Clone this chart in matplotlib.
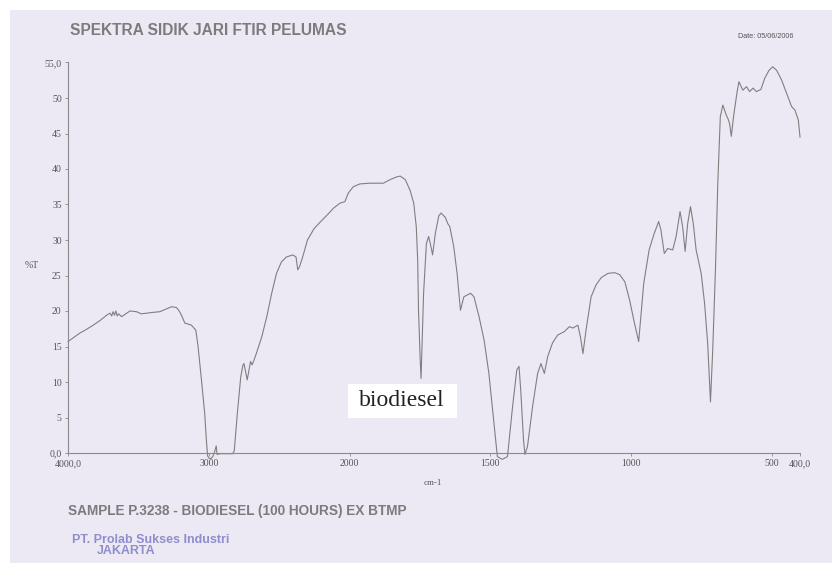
import numpy as np
import matplotlib
matplotlib.use("Agg")
import matplotlib.pyplot as plt
from matplotlib.patches import Rectangle

# ---------------- data ----------------
wavenumber = [4000, 3950, 3915, 3870, 3821, 3770, 3726, 3702, 3690, 3680, 3670, 3660,
              3650, 3640, 3619, 3590, 3560, 3513, 3480, 3442, 3400, 3348, 3300, 3265,
              3230, 3210, 3194, 3170, 3123, 3092, 3076, 3052, 3029, 3017, 3008, 3000,
              2986, 2972, 2958, 2947, 2941, 2920, 2830, 2819, 2797, 2773, 2757, 2750,
              2727, 2703, 2692, 2669, 2623, 2588, 2553, 2519, 2484, 2449, 2403, 2380,
              2368, 2356, 2333, 2299, 2252, 2205, 2160, 2113, 2067, 2033, 2009, 1987,
              1963, 1928, 1880, 1856, 1832, 1820, 1802, 1785, 1772, 1763, 1758, 1755,
              1749, 1746, 1737, 1727, 1719, 1711, 1705, 1695, 1683, 1675, 1660, 1651,
              1644, 1630, 1618, 1606, 1594, 1570, 1558, 1540, 1522, 1505, 1487, 1475,
              1457, 1439, 1421, 1406, 1398, 1392, 1382, 1377, 1368, 1350, 1332, 1320,
              1308, 1296, 1279, 1261, 1237, 1219, 1207, 1189, 1180, 1171, 1160, 1142,
              1124, 1106, 1082, 1058, 1040, 1022, 1005, 988, 973, 955, 936, 918,
              902, 894, 882, 870, 852, 840, 826, 817, 808, 799, 789, 779,
              769, 751, 739, 728, 718, 710, 700, 692, 683, 674, 662, 656,
              650, 644, 636, 624, 617, 603, 590, 579, 567, 555, 539, 525,
              510, 497, 483, 465, 448, 430, 418, 406, 400]
transmittance = [15.7, 16.4, 16.9, 17.4, 18.0, 18.7, 19.4, 19.7, 19.3, 19.9, 19.4, 20.0,
                 19.3, 19.6, 19.2, 19.6, 20.0, 19.9, 19.6, 19.7, 19.8, 19.9, 20.3, 20.6,
                 20.5, 20.0, 19.4, 18.3, 18.0, 17.3, 15.0, 10.3, 5.6, 1.8, -0.4, -0.7,
                 -0.8, -0.5, 0.2, 1.0, -0.2, -0.1, -0.1, 0.3, 5.6, 10.7, 12.4, 12.6,
                 10.3, 12.9, 12.4, 13.6, 16.4, 19.2, 22.5, 25.3, 26.9, 27.6, 27.9, 27.6,
                 25.8, 26.2, 27.6, 30.0, 31.6, 32.6, 33.5, 34.5, 35.2, 35.4, 36.6, 37.5,
                 37.9, 38.0, 38.0, 38.5, 38.9, 39.0, 38.5, 37.0, 35.2, 31.9, 27.2, 20.1,
                 13.1, 10.5, 22.5, 29.5, 30.5, 29.1, 27.9, 31.0, 33.4, 33.8, 33.2, 32.3,
                 31.9, 29.1, 25.3, 20.1, 22.0, 22.5, 22.0, 19.2, 15.9, 11.2, 4.2, -0.5,
                 -0.9, -0.5, 6.5, 11.7, 12.2, 8.9, 1.8, -0.2, 0.9, 6.5, 11.2, 12.6,
                 11.2, 13.6, 15.5, 16.6, 17.1, 17.8, 17.6, 18.0, 16.4, 14.0, 17.3, 22.0,
                 23.7, 24.7, 25.3, 25.4, 25.1, 24.1, 21.5, 18.3, 15.7, 23.9, 28.6, 30.9,
                 32.6, 31.4, 28.1, 28.8, 28.6, 30.5, 34.0, 31.9, 28.4, 32.3, 34.7, 32.3,
                 28.6, 25.3, 21.1, 15.5, 7.2, 14.5, 26.2, 38.0, 47.4, 49.0, 47.6, 47.1,
                 46.4, 44.6, 47.4, 50.7, 52.3, 51.1, 51.6, 50.9, 51.4, 50.9, 51.2, 52.8,
                 53.9, 54.4, 53.9, 52.5, 50.7, 48.8, 48.3, 46.9, 44.5]

x_ticks = [4000, 3000, 2000, 1500, 1000, 500, 400]
x_tick_labels = ["4000,0", "3000", "2000", "1500", "1000", "500", "400,0"]
y_ticks = [0, 5, 10, 15, 20, 25, 30, 35, 40, 45, 50, 55]
y_tick_labels = ["0,0", "5", "10", "15", "20", "25", "30", "35", "40", "45", "50", "55,0"]

title_text = "SPEKTRA SIDIK JARI FTIR PELUMAS"
date_text = "Date: 05/06/2006"
sample_text = "SAMPLE P.3238 - BIODIESEL (100 HOURS) EX BTMP"
stamp_line1 = "PT. Prolab Sukses Industri"
stamp_line2 = "JAKARTA"
annotation_text = "biodiesel"

# ---------------- figure ----------------
W, H = 832, 563
fig = plt.figure(figsize=(W / 100, H / 100), dpi=100)
fig.patch.set_facecolor("white")
bg = "#ECE9F4"
fig.patches.append(Rectangle((10 / W, 0), 1 - 10 / W, 1 - 10 / H,
                             transform=fig.transFigure, facecolor=bg,
                             edgecolor="none", zorder=-10))


def fx(px):
    return px / W


def fy(py):
    return 1 - py / H


# axes geometry (pixels)
x_left, x_right = 68, 800
y_top_px = 62.5          # value 55
y_zero_px = 453.0        # value 0
px_per_unit = (y_zero_px - y_top_px) / 55.0
ymin = -3.0
y_bottom_px = y_zero_px + (-ymin) * px_per_unit

ax = fig.add_axes([x_left / W, 1 - y_bottom_px / H,
                   (x_right - x_left) / W, (y_bottom_px - y_top_px) / H])
ax.set_facecolor("none")


def fwd(v):
    v = np.asarray(v, dtype=float)
    return np.where(v >= 2000, v, 2 * v - 2000)


def inv(t):
    t = np.asarray(t, dtype=float)
    return np.where(t >= 2000, t, (t + 2000) / 2)


ax.set_xscale("function", functions=(fwd, inv))
ax.set_xlim(4000, 400)
ax.set_ylim(ymin, 55)

line_col = "#7f7f7f"
ax.plot(wavenumber, transmittance, color=line_col, lw=0.8, clip_on=False, zorder=2)

for s in ["top", "right"]:
    ax.spines[s].set_visible(False)
ax.spines["bottom"].set_position(("data", 0))
ax.spines["left"].set_bounds(0, 55)
for s in ["left", "bottom"]:
    ax.spines[s].set_color("#8a8a8a")
    ax.spines[s].set_linewidth(0.8)

tick_font = dict(family="Liberation Serif", size=7)
ax.set_xticks(x_ticks)
ax.set_xticklabels(x_tick_labels, **tick_font, color="#555555")
ax.set_yticks(y_ticks)
ax.set_yticklabels(y_tick_labels, **tick_font, color="#555555")
ax.xaxis.set_minor_locator(matplotlib.ticker.NullLocator())
ax.tick_params(axis="both", direction="out", length=2.5, width=0.6,
               color="#8a8a8a", pad=2)

# annotation box (white label) drawn in figure pixel space
fig.patches.append(Rectangle((fx(348), fy(418)), (457 - 348) / W, (418 - 384) / H,
                             transform=fig.transFigure, facecolor="white",
                             edgecolor="none", zorder=5))
fig.text(fx(402), fy(401), annotation_text, ha="center", va="center",
         family="Liberation Serif", size=17, color="#222222", zorder=6)

fig.text(fx(70), fy(30.5), title_text, ha="left", va="center",
         family="Liberation Sans", weight="bold", size=11.2, color="#7c7c7c")
fig.text(fx(793), fy(37), date_text, ha="right", va="center",
         family="Liberation Sans", size=5.2, color="#555555")
fig.text(fx(32), fy(266), "%T", ha="center", va="center",
         family="Liberation Serif", size=7, color="#555555")
fig.text(fx(433), fy(483), "cm-1", ha="center", va="center",
         family="Liberation Serif", size=6.5, color="#555555")
fig.text(fx(68), fy(511), sample_text, ha="left", va="center",
         family="Liberation Sans", weight="bold", size=9.8, color="#7c7c7c")
fig.text(fx(72), fy(540), stamp_line1, ha="left", va="center",
         family="Liberation Sans", weight="bold", size=9, color="#8e8ecc")
fig.text(fx(97), fy(551), stamp_line2, ha="left", va="center",
         family="Liberation Sans", weight="bold", size=9, color="#8e8ecc")

fig.savefig("out.png", dpi=100, facecolor=fig.get_facecolor())
